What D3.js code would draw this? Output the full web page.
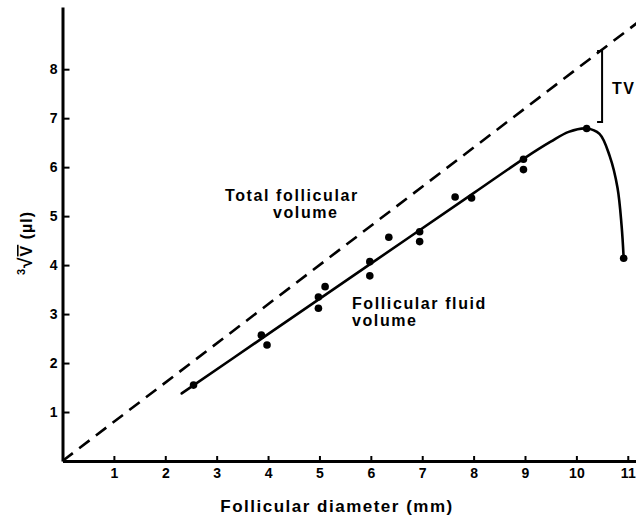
<!DOCTYPE html>
<html>
<head>
<meta charset="utf-8">
<script src="https://cdn.jsdelivr.net/npm/d3@7"></script>
<style>
  html, body { margin: 0; padding: 0; background: #fff; }
  svg { display: block; }
  text { font-family: "Liberation Sans", Arial, Helvetica, sans-serif; fill: #000; }
</style>
</head>
<body>
<svg id="chart" width="636" height="519"></svg>
<script>
// Follicle measurements: diameter (mm) vs cube root of volume (µl)
const diameters = [2.55, 3.87, 3.98, 4.98, 4.98, 5.11, 5.98, 5.98, 6.35, 6.95, 6.95, 7.64, 7.96, 8.97, 8.97, 10.2, 10.92];
const cubeRootVolumes = [1.55, 2.57, 2.37, 3.12, 3.35, 3.56, 3.78, 4.07, 4.57, 4.68, 4.48, 5.39, 5.37, 6.16, 5.95, 6.79, 4.14];

// Fitted follicular fluid volume curve
const fitX = [2.32, 4.0, 6.0, 8.0, 9.0, 9.5, 9.85, 10.2, 10.45, 10.65, 10.8, 10.88, 10.92];
const fitY = [1.38, 2.59, 4.03, 5.47, 6.19, 6.52, 6.72, 6.79, 6.68, 6.22, 5.58, 4.8, 4.14];

// Total follicular volume line (dashed)
const totalX = [0, 11.2];
const totalY = [0, 8.96];

// TV bracket: gap between total and fluid volume
const tvX = 10.5;
const tvTop = 8.37;
const tvBottom = 6.92;

const xTicks = [1, 2, 3, 4, 5, 6, 7, 8, 9, 10, 11];
const yTicks = [1, 2, 3, 4, 5, 6, 7, 8];

const svg = d3.select("#chart");

const x = d3.scaleLinear().domain([0, 11.16]).range([62.5, 636]);
const y = d3.scaleLinear().domain([0, 9.27]).range([461, 7]);

// Axes with inward ticks
const xAxis = d3.axisBottom(x).tickValues(xTicks).tickSize(-5).tickSizeOuter(0).tickPadding(7);
const yAxis = d3.axisLeft(y).tickValues(yTicks).tickSize(-7).tickSizeOuter(0).tickPadding(5);

const gx = svg.append("g").attr("transform", `translate(0,${y(0)})`).call(xAxis);
const gy = svg.append("g").attr("transform", `translate(${x(0)},0)`).call(yAxis);

[gx, gy].forEach(g => {
  g.select(".domain").attr("stroke", "#000").attr("stroke-width", 3);
  g.selectAll(".tick line").attr("stroke", "#000").attr("stroke-width", 2);
  g.selectAll(".tick text")
    .attr("font-size", 14)
    .attr("font-weight", "bold")
    .attr("font-family", "Liberation Sans, Arial, sans-serif")
    .attr("fill", "#000");
});

// Dashed total-volume line
const line = d3.line().x(d => x(d[0])).y(d => y(d[1]));
svg.append("path")
  .datum(totalX.map((v, i) => [v, totalY[i]]))
  .attr("d", line)
  .attr("fill", "none")
  .attr("stroke", "#000")
  .attr("stroke-width", 2.6)
  .attr("stroke-dasharray", "13,8");

// Fitted fluid-volume curve
const curve = d3.line().x(d => x(d[0])).y(d => y(d[1])).curve(d3.curveCatmullRom.alpha(0.5));
svg.append("path")
  .datum(fitX.map((v, i) => [v, fitY[i]]))
  .attr("d", curve)
  .attr("fill", "none")
  .attr("stroke", "#000")
  .attr("stroke-width", 2.6)
  .attr("stroke-linejoin", "round")
  .attr("stroke-linecap", "round");

// Data points
svg.append("g").selectAll("circle")
  .data(diameters.map((v, i) => [v, cubeRootVolumes[i]]))
  .join("circle")
  .attr("cx", d => x(d[0]))
  .attr("cy", d => y(d[1]))
  .attr("r", 3.8)
  .attr("fill", "#000");

// TV bracket
const bx = x(tvX);
svg.append("path")
  .attr("d", `M${bx - 5},${y(tvTop)} H${bx} V${y(tvBottom)} H${bx - 5}`)
  .attr("fill", "none")
  .attr("stroke", "#000")
  .attr("stroke-width", 2);
svg.append("text")
  .attr("x", bx + 10).attr("y", 94)
  .attr("font-size", 16).attr("font-weight", "bold")
  .attr("letter-spacing", 1.5)
  .text("TV");

// Curve labels
const lab = svg.append("g").attr("font-size", 16).attr("font-weight", "bold").attr("letter-spacing", 1.6);
lab.append("text").attr("x", 225).attr("y", 201).text("Total follicular");
lab.append("text").attr("x", 273).attr("y", 218).text("volume");
lab.append("text").attr("x", 352).attr("y", 309).text("Follicular fluid");
lab.append("text").attr("x", 352).attr("y", 326).text("volume");

// Axis titles
svg.append("text")
  .attr("x", 337).attr("y", 512)
  .attr("text-anchor", "middle")
  .attr("font-size", 17)
  .attr("font-weight", "bold")
  .attr("letter-spacing", 1.5)
  .text("Follicular diameter (mm)");

const yt = svg.append("text")
  .attr("transform", "translate(32,243) rotate(-90)")
  .attr("text-anchor", "middle")
  .attr("font-size", 16)
  .attr("font-weight", "bold")
  .attr("letter-spacing", 1);
yt.append("tspan").attr("font-size", 11).attr("dy", -7).text("3");
yt.append("tspan").attr("dy", 7).attr("font-size", 19).text("√");
yt.append("tspan").style("text-decoration", "overline").text("V");
yt.append("tspan").text(" (µl)");
</script>
</body>
</html>
